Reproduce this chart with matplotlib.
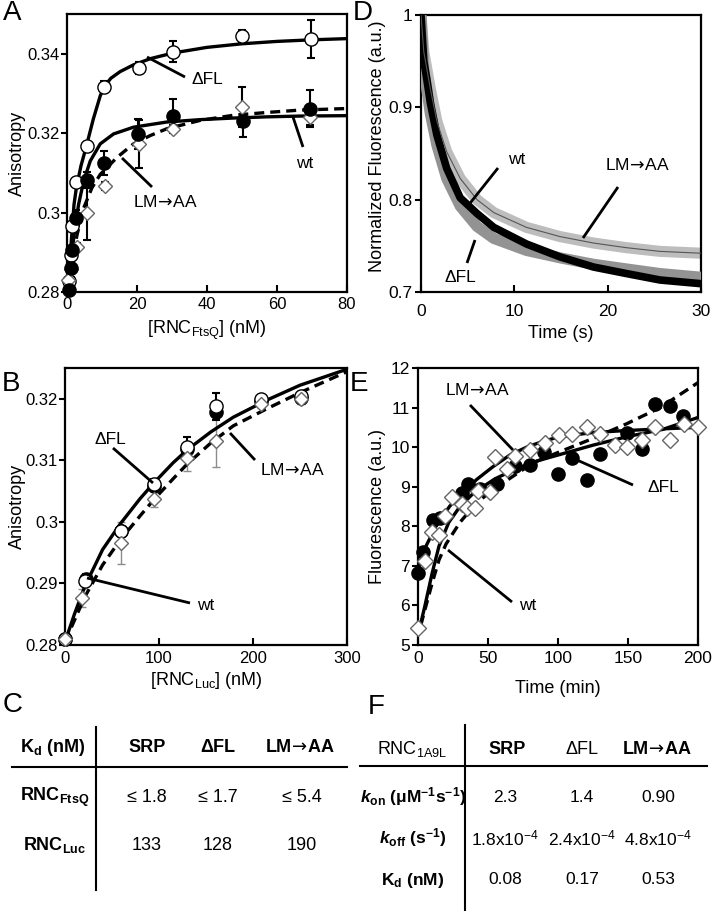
import matplotlib
matplotlib.use('Agg')
import matplotlib.pyplot as plt
from matplotlib.ticker import FuncFormatter

plt.rcParams['font.family'] = ['Liberation Sans', 'DejaVu Sans']
plt.rcParams['mathtext.fontset'] = 'custom'
plt.rcParams['mathtext.rm'] = 'Liberation Sans'
plt.rcParams['mathtext.it'] = 'Liberation Sans:italic:bold'
plt.rcParams['mathtext.bf'] = 'Liberation Sans:bold'
plt.rcParams['mathtext.sf'] = 'DejaVu Sans'

ARROW = r'LM$\!\mathsf{\rightarrow}\!$AA'

# ---- panel A: anisotropy vs [RNC_FtsQ]
a_fl_x = [0.5, 1, 1.5, 2.7, 5.7, 10.6, 20.5, 30.4, 50.1, 69.8]
a_fl_y = [0.2828, 0.2894, 0.2967, 0.3077, 0.3167, 0.3316, 0.3364, 0.3405, 0.3445, 0.3437]
a_fl_err = [0.0008, 0.0015, 0.001, 0.0005, 0.0005, 0.0015, 0.0015, 0.0026, 0.0015, 0.0049]
a_wt_x = [0.5, 1, 1.4, 2.7, 5.7, 10.6, 20.4, 30.2, 50.4, 69.5]
a_wt_y = [0.2805, 0.2860, 0.2905, 0.2987, 0.3083, 0.3124, 0.3198, 0.3243, 0.3231, 0.3262]
a_wt_err = [0, 0.001, 0.001, 0.002, 0.002, 0.003, 0.0037, 0.0042, 0.004, 0.0047]
a_lm_x = [0.3, 1, 2.9, 5.7, 10.9, 20.7, 30.4, 49.9, 69.4]
a_lm_y = [0.2830, 0.2858, 0.2913, 0.3000, 0.3068, 0.3173, 0.3211, 0.3265, 0.3241]
a_lm_err = [0.001, 0.002, 0.001, 0.007, 0.001, 0.006, 0.001, 0.005, 0.002]
a_fit_fl_x = [0.3, 1, 2, 2.7, 4, 5.5, 7.5, 9.5, 10.6, 12.5, 15.2, 19, 24, 30.4, 40, 50, 60, 70, 80]
a_fit_fl_y = [0.2810, 0.2900, 0.3020, 0.3064, 0.3118, 0.3166, 0.3235, 0.3294, 0.3316, 0.3338,
              0.3355, 0.3372, 0.3388, 0.3402, 0.3416, 0.3425, 0.3431, 0.3435, 0.3438]
a_fit_wt_x = [0.3, 1, 2, 3.3, 4.75, 6.65, 9.5, 13.3, 19, 28.5, 38, 47.5, 57, 66.5, 80]
a_fit_wt_y = [0.2805, 0.2858, 0.2943, 0.3020, 0.3079, 0.3130, 0.3173, 0.3198, 0.3215, 0.3228,
              0.3234, 0.3238, 0.3241, 0.3243, 0.3244]
a_fit_lm_x = [0.3, 1.4, 2.85, 4.75, 7.1, 9.5, 14.3, 19, 23.8, 28.5, 38, 47.5, 57, 66.5, 80]
a_fit_lm_y = [0.2815, 0.2875, 0.2943, 0.3011, 0.3062, 0.3096, 0.3139, 0.3173, 0.3194, 0.3211,
              0.3232, 0.3245, 0.3252, 0.3258, 0.3262]

# ---- panel B: anisotropy vs [RNC_Luc]
b_fl_x = [0, 21, 59.4, 95, 130, 161, 209, 251]
b_fl_y = [0.2810, 0.2904, 0.2985, 0.3061, 0.3122, 0.3188, 0.3200, 0.3205]
b_fl_err = [0, 0.0008, 0.0008, 0.0009, 0.0016, 0.0022, 0.0005, 0.0005]
b_wt_x = [0, 22, 59.4, 95, 130, 161, 209, 251]
b_wt_y = [0.2810, 0.2908, 0.2985, 0.3058, 0.3118, 0.3178, 0.3197, 0.3202]
b_wt_err = [0, 0.0008, 0, 0, 0, 0, 0, 0]
b_lm_x = [0, 18, 59.4, 95, 130, 161, 209, 251]
b_lm_y = [0.2810, 0.2876, 0.2966, 0.3037, 0.3103, 0.3131, 0.3191, 0.3200]
b_lm_err = [0.0005, 0.0015, 0.0034, 0.0013, 0.0021, 0.0042, 0.0006, 0.0008]
b_fit_x = [0, 10, 21, 40, 59.4, 80, 95, 115, 130, 155, 179, 215, 250, 300]
b_fit_solid = [0.2805, 0.2850, 0.2895, 0.2955, 0.2998, 0.3038, 0.3064, 0.3096, 0.3117, 0.3146,
               0.3170, 0.3198, 0.3222, 0.3248]
b_fit_dash = [0.2805, 0.2840, 0.2878, 0.2930, 0.2972, 0.3010, 0.3037, 0.3070, 0.3094, 0.3128,
              0.3156, 0.3184, 0.3210, 0.3244]

# ---- panel D: normalized fluorescence traces
d_t = [0, 0.3, 0.6, 1.0, 1.7, 2.75, 4.2, 6.0, 7.8, 11.3, 14.9, 18.5, 22, 25.6, 30]
d_lm = [1.0, 0.960, 0.943, 0.920, 0.885, 0.852, 0.823, 0.800, 0.786, 0.770, 0.760, 0.753, 0.748, 0.744, 0.742]
d_wt = [1.0, 0.950, 0.932, 0.905, 0.870, 0.834, 0.802, 0.785, 0.770, 0.752, 0.738, 0.727, 0.720, 0.713, 0.709]
d_fl = [1.0, 0.940, 0.921, 0.893, 0.859, 0.823, 0.793, 0.771, 0.758, 0.745, 0.737, 0.730, 0.725, 0.720, 0.716]

# ---- panel E: fluorescence vs time (min)
e_wt_t = [0, 3.6, 10.7, 15.7, 31.4, 35.7, 44.3, 56.4, 69.3, 80, 90, 100, 110, 120.5, 130,
          149, 160, 169.5, 180, 189]
e_wt_v = [6.81, 7.34, 8.15, 8.2, 8.85, 9.08, 8.95, 9.08, 9.53, 9.55, 9.88, 9.33, 9.72, 9.18, 9.82,
          10.37, 9.95, 11.09, 11.03, 10.78]
e_lm_t = [0, 4.8, 9.8, 15, 19.3, 24, 31.2, 34.8, 40.7, 43, 51.4, 55, 63.4, 69.3, 80, 90.7, 101,
          110, 120.5, 130, 140.8, 149, 160, 169.5, 180, 189.7, 200]
e_lm_v = [5.43, 7.12, 7.85, 7.79, 8.25, 8.73, 8.57, 8.45, 8.45, 8.9, 8.86, 9.74, 9.46, 9.78, 9.93,
          10.1, 10.3, 10.34, 10.5, 10.34, 10.05, 10.0, 10.17, 10.5, 10.17, 10.58, 10.5]
e_fit_up_t = [0, 6, 13.1, 22.7, 29.8, 41.8, 53.7, 65.6, 77.6, 89.5, 101, 125, 149, 173, 200]
e_fit_up_v = [6.9, 7.52, 8.02, 8.51, 8.76, 9.18, 9.51, 9.8, 10.0, 10.15, 10.26, 10.37, 10.42, 10.46, 10.5]
e_fit_fl_t = [1, 5, 10, 15, 22, 30, 40, 55, 70, 85, 100, 125, 150, 175, 200]
e_fit_fl_v = [5.4, 6.0, 6.8, 7.5, 8.1, 8.5, 8.85, 9.2, 9.45, 9.65, 9.8, 10.05, 10.27, 10.45, 10.75]
e_fit_wt_t = [2, 5, 10, 15, 20, 30, 42, 54, 66, 82, 101, 125, 149, 173, 200]
e_fit_wt_v = [5.5, 5.9, 6.55, 7.15, 7.55, 8.1, 8.6, 8.93, 9.22, 9.6, 9.88, 10.22, 10.59, 11.0, 11.63]

# ---- tables
c_cols = ['SRP', 'ΔFL', ARROW]
c_rows = [r'RNC$_{\mathbf{FtsQ}}$', r'RNC$_{\mathbf{Luc}}$']
c_vals = [['≤ 1.8', '≤ 1.7', '≤ 5.4'], ['133', '128', '190']]
f_cols = ['SRP', 'ΔFL', ARROW]
f_rows = [r'$\mathit{k}_{\mathbf{on}}$ (μM$^{\mathbf{-1}}$s$^{\mathbf{-1}}$)',
          r'$\mathit{k}_{\mathbf{off}}$ (s$^{\mathbf{-1}}$)',
          r'K$_{\mathbf{d}}$ (nM)']
f_vals = [['2.3', '1.4', '0.90'],
          [r'1.8x10$^{-4}$', r'2.4x10$^{-4}$', r'4.8x10$^{-4}$'],
          ['0.08', '0.17', '0.53']]

W, H = 712, 911
fig = plt.figure(figsize=(W / 100, H / 100), dpi=100)


def box(l, t, r, b):
    return [l / W, 1 - b / H, (r - l) / W, (b - t) / H]


def style(ax, xlim, ylim, xticks, yticks, xpad, ypad, tsize):
    ax.set_xlim(xlim)
    ax.set_ylim(ylim)
    ax.set_xticks(xticks)
    ax.set_yticks(yticks)
    ax.yaxis.set_major_formatter(FuncFormatter(lambda v, p: '%g' % round(v, 4)))
    ax.tick_params(axis='x', direction='in', length=5, width=1.5, pad=xpad, labelsize=tsize)
    ax.tick_params(axis='y', direction='out', length=4, width=1.5, pad=ypad, labelsize=tsize)
    for s in ax.spines.values():
        s.set_linewidth(1.6)


open_c = dict(marker='o', ls='none', ms=9.5, mfc='white', mec='k', mew=1.0, clip_on=False, zorder=5)
fill_c = dict(marker='o', ls='none', ms=9.5, mfc='k', mec='k', mew=1.0, clip_on=False, zorder=6)
diam = dict(marker='D', ls='none', ms=7.5, mfc='white', mec='0.4', mew=1.0, clip_on=False, zorder=5)
fitw = 2.4

# A
axA = fig.add_axes(box(67, 14, 347, 292))
axA.plot(a_fit_fl_x, a_fit_fl_y, color='k', lw=fitw, zorder=3)
axA.plot(a_fit_wt_x, a_fit_wt_y, color='k', lw=fitw, zorder=3)
axA.plot(a_fit_lm_x, a_fit_lm_y, color='k', lw=fitw, dashes=(3, 1.8), zorder=3)
axA.errorbar(a_fl_x, a_fl_y, yerr=a_fl_err, fmt='none', ecolor='k', elinewidth=1.5, capsize=3, capthick=1.5, zorder=2)
axA.errorbar(a_wt_x, a_wt_y, yerr=a_wt_err, fmt='none', ecolor='k', elinewidth=1.5, capsize=3, capthick=1.5, zorder=2)
axA.errorbar(a_lm_x, a_lm_y, yerr=a_lm_err, fmt='none', ecolor='k', elinewidth=1.5, capsize=3, capthick=1.5, zorder=2)
axA.plot(a_fl_x, a_fl_y, **open_c)
axA.plot(a_lm_x, a_lm_y, **diam)
axA.plot(a_wt_x, a_wt_y, **fill_c)
style(axA, (0, 80), (0.28, 0.35), [0, 20, 40, 60, 80], [0.28, 0.30, 0.32, 0.34], 3.5, 1, 12)
axA.set_xlabel(r'[RNC$_{\mathregular{FtsQ}}$] (nM)', fontsize=13)
axA.set_ylabel('Anisotropy', fontsize=13)
axA.xaxis.set_label_coords(0.5, -0.0975)
axA.yaxis.set_label_coords(-0.146, 0.5)

# B
axB = fig.add_axes(box(65, 368, 347, 645))
axB.plot(b_fit_x, b_fit_solid, color='k', lw=fitw, zorder=3)
axB.plot(b_fit_x, b_fit_dash, color='k', lw=fitw, dashes=(3, 1.8), zorder=3)
axB.errorbar(b_lm_x, b_lm_y, yerr=b_lm_err, fmt='none', ecolor='0.55', elinewidth=1.0, capsize=3, capthick=1.0, zorder=2)
axB.errorbar(b_wt_x, b_wt_y, yerr=b_wt_err, fmt='none', ecolor='k', elinewidth=1.5, capsize=3, capthick=1.5, zorder=2)
axB.errorbar(b_fl_x, b_fl_y, yerr=b_fl_err, fmt='none', ecolor='k', elinewidth=1.5, capsize=3, capthick=1.5, zorder=2)
axB.plot(b_wt_x, b_wt_y, **dict(fill_c, zorder=4))
axB.plot(b_fl_x, b_fl_y, **open_c)
axB.plot(b_lm_x, b_lm_y, **dict(diam, zorder=6))
style(axB, (0, 300), (0.28, 0.325), [0, 100, 200, 300], [0.28, 0.29, 0.30, 0.31, 0.32], 4, 1, 12)
axB.set_xlabel(r'[RNC$_{\mathregular{Luc}}$] (nM)', fontsize=13)
axB.set_ylabel('Anisotropy', fontsize=13)
axB.xaxis.set_label_coords(0.5, -0.09)
axB.yaxis.set_label_coords(-0.138, 0.5)

# D
axD = fig.add_axes(box(421, 15, 701, 292))
axD.plot(d_t, d_lm, color='#bdbdbd', lw=8, solid_capstyle='round', zorder=2)
axD.plot(d_t, d_lm, color='#555555', lw=0.8, zorder=5)
axD.plot(d_t, d_fl, color='#939393', lw=8, solid_capstyle='round', zorder=3)
axD.plot(d_t, d_wt, color='k', lw=5.5, solid_capstyle='round', zorder=4)
style(axD, (0, 30), (0.7, 1.0), [0, 10, 20, 30], [0.7, 0.8, 0.9, 1.0], 9, 2, 12.5)
axD.set_xlabel('Time (s)', fontsize=13)
axD.set_ylabel('Normalized Fluorescence (a.u.)', fontsize=13)
axD.xaxis.set_label_coords(0.5, -0.12)
axD.yaxis.set_label_coords(-0.125, 0.527)

# E
axE = fig.add_axes(box(418, 368, 698, 645))
axE.plot(e_fit_up_t, e_fit_up_v, color='k', lw=fitw, zorder=3)
axE.plot(e_fit_fl_t, e_fit_fl_v, color='k', lw=fitw, zorder=3)
axE.plot(e_fit_wt_t, e_fit_wt_v, color='k', lw=fitw, dashes=(3, 1.8), zorder=3)
axE.plot(e_wt_t, e_wt_v, **dict(fill_c, zorder=4))
axE.plot(e_lm_t, e_lm_v, **dict(diam, ms=8))
style(axE, (0, 200), (5, 12), [0, 50, 100, 150, 200], list(range(5, 13)), 4, 2, 12.5)
axE.set_xlabel('Time (min)', fontsize=13)
axE.set_ylabel('Fluorescence (a.u.)', fontsize=13)
axE.xaxis.set_label_coords(0.5, -0.126)
axE.yaxis.set_label_coords(-0.114, 0.5)

# overlay for labels, pointers and tables (pixel coordinates)
ov = fig.add_axes([0, 0, 1, 1], zorder=10)
ov.set_xlim(0, W)
ov.set_ylim(H, 0)
ov.axis('off')
ov.patch.set_alpha(0)

for lab, x, y in [('A', 3, 0), ('B', 2, 371), ('C', 3, 692), ('D', 353, 0), ('E', 350, 371), ('F', 368, 694)]:
    ov.text(x, y, lab, fontsize=20, ha='left', va='top')

pointers = [
    ('ΔFL', 207, 80, (147, 57), (185, 77)),
    ('wt', 305, 163, (293, 117), (303, 147)),
    (ARROW, 165, 202, (122, 158), (152, 187)),
    ('ΔFL', 110, 440, (113, 448), (153, 483)),
    (ARROW, 292, 470, (230, 433), (255, 460)),
    ('wt', 206, 605, (87, 578), (190, 603)),
    ('wt', 517, 160, (498, 168), (467, 207)),
    (ARROW, 637, 165, (618, 187), (583, 238)),
    ('ΔFL', 460, 277, (467, 263), (475, 240)),
    (ARROW, 477, 390, (470, 405), (513, 450)),
    ('ΔFL', 663, 488, (633, 485), (577, 460)),
    ('wt', 528, 605, (512, 602), (448, 550)),
]
for txt, tx, ty, p1, p2 in pointers:
    ov.text(tx, ty, txt, fontsize=12.5, ha='center', va='center')
    ov.plot([p1[0], p2[0]], [p1[1], p2[1]], color='k', lw=2.0, solid_capstyle='butt')

# table C
ov.plot([96, 96], [727, 890], color='k', lw=1.5)
ov.plot([12, 347], [767, 767], color='k', lw=1.5)
ov.text(53, 748, r'K$_{\mathbf{d}}$ (nM)', fontsize=13, weight='bold', ha='center', va='center')
for cx, name in zip([147, 218, 300], c_cols):
    ov.text(cx, 748, name, fontsize=13, weight='bold', ha='center', va='center')
for ry, rname, vals in zip([797, 845], c_rows, c_vals):
    ov.text(55, ry, rname, fontsize=13, weight='bold', ha='center', va='center')
    for cx, v in zip([147, 218, 302], vals):
        ov.text(cx, ry, v, fontsize=13, ha='center', va='center')

# table F
ov.plot([465, 465], [725, 911], color='k', lw=1.5)
ov.plot([360, 707], [766, 766], color='k', lw=1.5)
ov.text(412, 749, r'RNC$_{\mathregular{1A9L}}$', fontsize=13, ha='center', va='center')
for cx, name, wgt in zip([507, 582, 657], f_cols, ['bold', 'normal', 'bold']):
    ov.text(cx, 749, name, fontsize=13, weight=wgt, ha='center', va='center')
for ry, rname, vals in zip([797, 838, 880], f_rows, f_vals):
    ov.text(413, ry, rname, fontsize=12.5, weight='bold', ha='center', va='center')
    for cx, v in zip([505, 582, 658], vals):
        ov.text(cx, ry, v, fontsize=12.5, ha='center', va='center')

fig.savefig('out.png', dpi=100)
